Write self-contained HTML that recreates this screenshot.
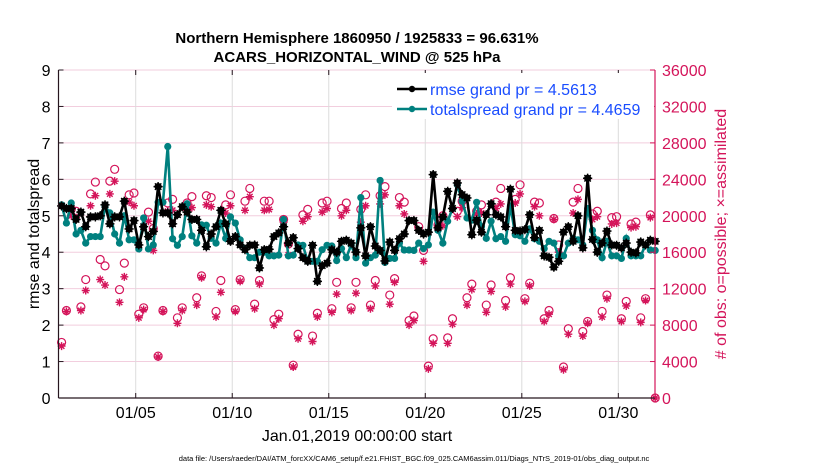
<!DOCTYPE html>
<html><head><meta charset="utf-8">
<style>
html,body{margin:0;padding:0;background:#fff;}
svg{display:block;font-family:"Liberation Sans",Arial,sans-serif;}
</style></head>
<body>
<svg id="chart" width="830" height="470" viewBox="0 0 830 470" xmlns="http://www.w3.org/2000/svg">
<text x="357" y="43" text-anchor="middle" font-size="15" font-weight="bold">Northern Hemisphere 1860950 / 1925833 = 96.631%</text>
<text x="357" y="62" text-anchor="middle" font-size="15" font-weight="bold">ACARS_HORIZONTAL_WIND @ 525 hPa</text>
<g id="grid"></g>
<g id="obs"></g>
<g id="lines"></g>
<g id="axes"></g>
<text transform="translate(39,234) rotate(-90)" text-anchor="middle" font-size="16">rmse and totalspread</text>
<text transform="translate(726,234) rotate(-90)" text-anchor="middle" font-size="16" fill="#d4145a"># of obs: o=possible; ×=assimilated</text>
<text x="357" y="441" text-anchor="middle" font-size="16">Jan.01,2019 00:00:00 start</text>
<text x="414" y="461" text-anchor="middle" font-size="7.5">data file: /Users/raeder/DAI/ATM_forcXX/CAM6_setup/f.e21.FHIST_BGC.f09_025.CAM6assim.011/Diags_NTrS_2019-01/obs_diag_output.nc</text>
<g id="legend"></g>
</svg>
<script>
const rmse=[5.27,5.2,5.2,4.9,5.1,4.7,4.97,4.97,5.0,5.3,4.78,4.97,4.97,5.4,4.64,4.87,4.2,4.7,4.43,4.57,5.8,5.08,5.08,4.78,5.03,5.25,5.1,4.9,4.9,4.6,4.15,4.5,4.7,5.15,4.78,4.3,4.43,4.2,4.07,4.19,4.2,3.57,4.07,4.08,4.43,4.53,4.7,4.25,4.4,4.1,3.85,3.75,4.19,3.2,3.63,3.7,4.07,4.0,4.3,4.33,4.25,4.0,4.67,3.9,4.7,4.17,4.05,3.76,4.28,4.05,4.37,4.5,4.87,4.87,4.6,4.5,4.55,6.13,4.67,4.97,5.67,5.2,5.9,5.58,5.49,4.48,4.88,4.55,5.03,5.33,5.03,4.97,4.7,5.73,4.6,4.58,4.62,5.03,4.4,4.6,3.9,3.86,3.59,3.75,4.55,4.7,4.3,5.0,4.12,6.03,4.35,4.0,4.25,4.58,4.2,4.19,4.12,4.25,4.0,3.98,4.28,4.2,4.33,4.3];
const spread=[5.3,4.8,5.35,4.5,4.6,4.25,4.43,4.43,4.43,5.25,5.08,4.5,4.25,5.0,4.34,4.34,4.09,4.94,4.09,4.2,5.37,5.37,6.9,4.37,4.19,4.43,5.33,4.45,4.25,4.75,4.74,4.38,4.25,4.8,4.38,4.97,4.8,4.34,4.09,3.85,3.85,4.0,4.0,3.9,3.9,3.92,4.9,3.9,3.92,4.2,4.19,3.75,3.75,3.75,4.07,4.19,4.17,3.77,4.1,3.85,4.2,3.85,5.5,3.7,3.85,3.92,5.97,3.72,3.83,3.83,4.25,4.06,4.06,4.05,4.25,4.1,4.2,5.1,4.6,4.25,4.85,5.2,5.85,5.4,4.94,4.88,5.37,4.7,4.38,4.85,4.37,4.43,4.3,5.27,4.48,4.45,4.3,4.64,4.37,4.3,4.1,4.3,4.25,3.9,3.9,4.25,4.38,4.34,4.2,5.2,4.6,4.34,3.85,4.3,3.9,3.9,3.83,4.38,3.9,3.9,3.9,4.2,4.06,4.05];
const obsPossible=[6100,9600,20700,20500,10000,13000,22400,23700,15200,14500,23800,25100,11900,14800,22300,22500,9200,9900,20400,18600,4600,9600,21400,21800,8800,9900,21400,22100,11000,13400,22200,22000,9500,12900,21200,22300,9700,13000,21600,23000,10300,12900,21600,21600,8600,9200,19600,16900,3600,7000,20100,20700,6800,9300,21400,21600,9800,12700,20800,21400,9900,12700,20700,22300,10200,12900,22200,23200,11300,13100,22000,21500,8500,9000,18800,16200,3500,6500,19000,20000,6600,8700,20500,21600,11000,12500,20500,21200,10200,12400,21500,23000,10700,13200,21800,23400,10900,12600,21500,21400,8700,9600,19700,16800,3400,7600,21500,23000,7300,8400,20200,20500,9500,11300,19800,19900,8700,10600,19100,19300,8800,10900,20100,0];
const obsAssim=[5700,9500,20000,19800,9600,11800,21100,22200,13000,12400,22400,23800,10500,13300,21500,21100,8800,9700,19400,16200,4500,9500,20500,20600,8200,9600,20600,20900,10200,13200,21200,21000,8900,11600,20300,21100,9500,12800,20600,22100,9800,12500,20600,20700,8000,8700,19300,15700,3400,6500,19400,19900,6200,8900,20400,20800,9400,11400,20000,20600,9600,11500,19300,21100,9800,12300,21300,22300,10300,12700,21100,20200,8000,8500,18400,15000,3200,6000,18500,18900,6000,8100,19900,20900,10200,11900,20200,20300,9400,11700,20800,21300,10000,12500,21400,22400,10600,12300,21000,20000,8400,9200,19600,16000,3100,7000,20300,21800,6800,8200,19600,19900,8900,10900,19100,19200,8400,10100,18700,18800,8300,10700,19800,0];
const leftTicks=[0,1,2,3,4,5,6,7,8,9];
const rightTicks=[0,4000,8000,12000,16000,20000,24000,28000,32000,36000];
const dateDays=[4,9,14,19,24,29];
const dateLabels=["01/05","01/10","01/15","01/20","01/25","01/30"];
const legendLabels=["rmse grand pr = 4.5613","totalspread grand pr = 4.4659"];

const NS="http://www.w3.org/2000/svg";
const X0=58.5,X1=655,Y0=398,Y1=70,DAYS=30.9;
const MAG="#d4145a",TEAL="#00807f";
function xDay(d){return X0+(d/DAYS)*(X1-X0);}
function xIdx(i){return xDay(0.16+0.25*i);}
function yL(v){return Y0-(v/9)*(Y0-Y1);}
function yR(v){return Y0-(v/36000)*(Y0-Y1);}
function mk(tag,attrs,parent){const e=document.createElementNS(NS,tag);for(const k in attrs)e.setAttribute(k,attrs[k]);parent.appendChild(e);return e;}
const grid=document.getElementById('grid'),axes=document.getElementById('axes'),obs=document.getElementById('obs'),lines=document.getElementById('lines'),leg=document.getElementById('legend');

leftTicks.forEach((v,i)=>{
  const g=mk('line',{x1:X0,x2:X1,y1:yL(v),y2:yL(v),stroke:'#f2cede','stroke-width':1},grid);
  
  
  const t=mk('text',{x:X0-8,y:yL(v)+6,'text-anchor':'end','font-size':16},axes);
  t.textContent=v;
  
  
  const tk=mk('line',{x1:X0,x2:X0+5,y1:yL(v),y2:yL(v),stroke:'#26161f'},axes);
  
  
});
rightTicks.forEach(v=>{
  const t=mk('text',{x:X1+7,y:yR(v)+6,'font-size':16,fill:MAG},axes);
  t.textContent=v;
  
  
  const tk=mk('line',{x1:X1-5,x2:X1,y1:yR(v),y2:yR(v),stroke:MAG},axes);
  
  
});
dateDays.forEach((d,i)=>{
  const x=xDay(d);
  const g=mk('line',{x1:x,x2:x,y1:Y1,y2:Y0,stroke:'#dcdcdc','stroke-width':1},grid);
  
  
  const t=mk('text',{x:x,y:418,'text-anchor':'middle','font-size':16},axes);
  t.textContent=dateLabels[i];
  
  
  const tk=mk('line',{x1:x,x2:x,y1:Y0,y2:Y0-5,stroke:'#26161f'},axes);
  
  
  const tt=mk('line',{x1:x,x2:x,y1:Y1,y2:Y1+5,stroke:'#26161f'},axes);
  
  
});
const la=mk('line',{x1:X0,x2:X0,y1:Y1,y2:Y0,stroke:'#26161f','stroke-width':1.2},axes);


const ba=mk('line',{x1:X0,x2:X1,y1:Y0,y2:Y0,stroke:'#26161f','stroke-width':1.2},axes);


const ra=mk('line',{x1:X1,x2:X1,y1:Y1,y2:Y0,stroke:MAG,'stroke-width':1.2},axes);



function star(x,y,r,col,parent){
  return mk('path',{d:`M${x-r},${y}H${x+r}M${x},${y-r}V${y+r}M${x-r*0.7},${y-r*0.7}L${x+r*0.7},${y+r*0.7}M${x-r*0.7},${y+r*0.7}L${x+r*0.7},${y-r*0.7}`,stroke:col,'stroke-width':1.4,fill:'none'},parent);
}
obsPossible.forEach((v,i)=>{
  const c=mk('circle',{cx:xIdx(i),cy:yR(v),r:4,fill:'none',stroke:MAG,'stroke-width':1.2},obs);
  
  
});
obsAssim.forEach((v,i)=>{
  const s=star(xIdx(i),yR(v),4,MAG,obs);
  
  
});
function series(arr,col,name){
  const p=mk('polyline',{points:arr.map((v,i)=>xIdx(i)+','+yL(v)).join(' '),fill:'none',stroke:col,'stroke-width':2.6},lines);
  
  
  arr.forEach((v,i)=>{
    const c=mk('circle',{cx:xIdx(i),cy:yL(v),r:3.6,fill:col},lines);
    
    
    if(col==='#000'){star(xIdx(i),yL(v),4.6,col,lines);}
  });
}
series(spread,TEAL,'totalspread');
series(rmse,'#000','rmse');

const bg=mk('rect',{x:392,y:73,width:262,height:46,fill:'#fff'},leg);


[['#000',89],[TEAL,109]].forEach((e,i)=>{
  const l=mk('line',{x1:397,x2:427,y1:e[1],y2:e[1],stroke:e[0],'stroke-width':2.6},leg);
  
  
  const c=mk('circle',{cx:412,cy:e[1],r:3.2,fill:e[0]},leg);
  
  
  const t=mk('text',{x:430,y:e[1]+6,'font-size':16,fill:'#1a4dff'},leg);
  t.textContent=legendLabels[i];
  
  
});
</script>
</body></html>
